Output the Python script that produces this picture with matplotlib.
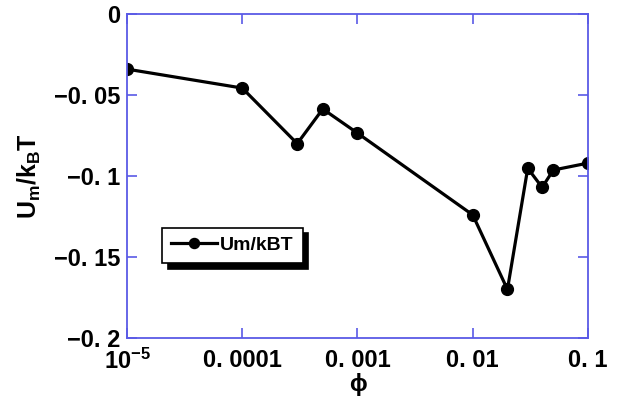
import matplotlib
matplotlib.use('Agg')
import matplotlib.pyplot as plt
from matplotlib.ticker import FixedLocator, FixedFormatter, NullLocator

# Datos
phi = [1e-5, 1e-4, 3e-4, 5e-4, 1e-3, 1e-2, 2e-2, 3e-2, 4e-2, 5e-2, 1e-1]
um_kbt = [-0.034, -0.0457, -0.080, -0.0586, -0.0735, -0.124, -0.170,
          -0.0952, -0.107, -0.0963, -0.092]

xticks = [1e-5, 1e-4, 1e-3, 1e-2, 1e-1]
xtick_labels = ['10$^{-5}$', '0. 0001', '0. 001', '0. 01', '0. 1']
yticks = [0, -0.05, -0.1, -0.15, -0.2]
ytick_labels = ['0', '\u22120. 05', '\u22120. 1', '\u22120. 15', '\u22120. 2']

plt.rcParams['font.family'] = ['Liberation Sans', 'DejaVu Sans']
plt.rcParams['font.weight'] = 'bold'
plt.rcParams['mathtext.fontset'] = 'custom'
plt.rcParams['mathtext.rm'] = 'Liberation Sans:bold'
plt.rcParams['mathtext.it'] = 'Liberation Sans:bold'
plt.rcParams['mathtext.bf'] = 'Liberation Sans:bold'

azul = '#5a5ae6'

fig = plt.figure(figsize=(6.17, 4.01), dpi=100)
ax = fig.add_axes([0.2058, 0.157, 0.7472, 0.808])

ax.plot(phi, um_kbt, color='black', lw=2.3, marker='o', ms=8.5,
        label='Um/kBT')

ax.set_xscale('log')
ax.set_xlim(1e-5, 1e-1)
ax.set_ylim(-0.2, 0)

ax.xaxis.set_major_locator(FixedLocator(xticks))
ax.xaxis.set_major_formatter(FixedFormatter(xtick_labels))
ax.xaxis.set_minor_locator(NullLocator())
ax.yaxis.set_major_locator(FixedLocator(yticks))
ax.yaxis.set_major_formatter(FixedFormatter(ytick_labels))

for s in ax.spines.values():
    s.set_color(azul)
    s.set_linewidth(1.3)
ax.tick_params(which='major', direction='in', length=7, width=1.2,
               color=azul, top=True, right=True, labelsize=17)
ax.tick_params(axis='x', pad=8)
ax.tick_params(axis='y', pad=5)

ax.set_xlabel('\u03d5', fontsize=17, fontweight='bold', labelpad=-1)
ax.set_ylabel('U$_\\mathrm{m}$/k$_\\mathrm{B}$T', fontsize=18,
              fontweight='bold', labelpad=8)

# leyenda con sombra negra desplazada
leg = ax.legend(loc='upper left', bbox_to_anchor=(0.076, 0.34),
                borderaxespad=0, fancybox=False,
                shadow={'color': 'black', 'alpha': 1, 'ox': 4, 'oy': -4},
                edgecolor='black', fontsize=14, handlelength=2.4,
                handletextpad=0.15, borderpad=0.45, markerscale=0.85,
                framealpha=1)
leg.get_frame().set_linewidth(1.2)

plt.savefig('out.png', dpi=100, facecolor='white')
plt.close()
